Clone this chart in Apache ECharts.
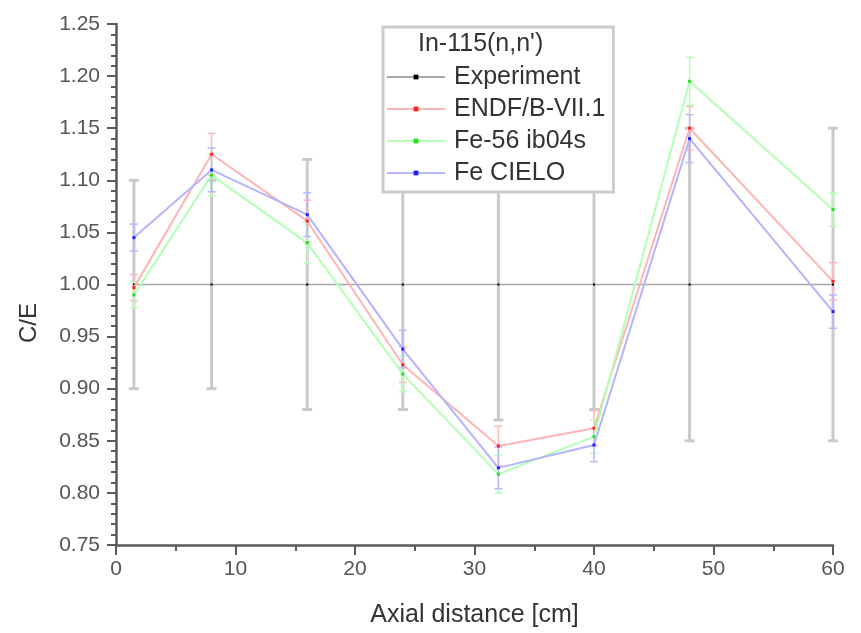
<!DOCTYPE html>
<html>
<head>
<meta charset="utf-8">
<script src="https://cdn.jsdelivr.net/npm/echarts@6/dist/echarts.min.js"></script>
<style>
  html, body { margin: 0; padding: 0; background: #fff; }
  #chart { width: 861px; height: 633px; }
</style>
</head>
<body>
<div id="chart"></div>
<script>
var xs = [1.5, 8, 16, 24, 32, 40, 48, 60];
var expVals = [1, 1, 1, 1, 1, 1, 1, 1];
var expErr = [0.10, 0.10, 0.12, 0.12, 0.13, 0.12, 0.15, 0.15];
var endfVals = [0.997, 1.125, 1.061, 0.923, 0.845, 0.862, 1.150, 1.003];
var endfErr = [0.0125, 0.020, 0.020, 0.017, 0.019, 0.017, 0.021, 0.018];
var fe56Vals = [0.990, 1.105, 1.040, 0.914, 0.818, 0.854, 1.195, 1.072];
var fe56Err = [0.012, 0.020, 0.020, 0.017, 0.018, 0.016, 0.023, 0.016];
var cieloVals = [1.045, 1.110, 1.067, 0.938, 0.824, 0.846, 1.140, 0.974];
var cieloErr = [0.013, 0.021, 0.021, 0.018, 0.020, 0.016, 0.023, 0.016];

var names = ['Experiment', 'ENDF/B-VII.1', 'Fe-56 ib04s', 'Fe CIELO'];
var lineColors = ['#a8a8a8', '#ffb4b4', '#b4ffb4', '#b4b4ff'];
var markColors = ['#000000', '#ff2020', '#20e020', '#2020ff'];
var barColors = ['#cacaca', '#ffb8b8', '#b8ffb8', '#b8b8ff'];
var allVals = [expVals, endfVals, fe56Vals, cieloVals];
var allErr = [expErr, endfErr, fe56Err, cieloErr];

function pts(vals) { return xs.map(function (x, i) { return [x, vals[i]]; }); }
function errPts(vals, errs) { return xs.map(function (x, i) { return [x, vals[i] - errs[i], vals[i] + errs[i]]; }); }

function errSeries(k) {
  var lw = k === 0 ? 3 : 1.5;
  var half = k === 0 ? 5 : 4;
  return {
    type: 'custom',
    name: names[k] + ' err',
    data: errPts(allVals[k], allErr[k]),
    encode: { x: 0, y: [1, 2] },
    z: k === 0 ? 1 : 2,
    silent: true,
    renderItem: function (params, api) {
      var x = api.value(0);
      var lo = api.coord([x, api.value(1)]);
      var hi = api.coord([x, api.value(2)]);
      var st = { stroke: barColors[k], lineWidth: lw };
      return {
        type: 'group',
        children: [
          { type: 'line', shape: { x1: lo[0], y1: lo[1], x2: hi[0], y2: hi[1] }, style: st },
          { type: 'line', shape: { x1: lo[0] - half, y1: lo[1], x2: lo[0] + half, y2: lo[1] }, style: st },
          { type: 'line', shape: { x1: hi[0] - half, y1: hi[1], x2: hi[0] + half, y2: hi[1] }, style: st }
        ]
      };
    }
  };
}

function lineSeries(k) {
  return {
    type: 'line',
    name: names[k],
    data: pts(allVals[k]),
    z: 3 + k,
    symbol: 'rect',
    symbolSize: k === 0 ? 2 : 3,
    showSymbol: true,
    itemStyle: { color: markColors[k] },
    lineStyle: { color: lineColors[k], width: k === 0 ? 1.5 : 2 },
    emphasis: { disabled: true },
    animation: false
  };
}

var series = [];
for (var k = 0; k < 4; k++) series.push(errSeries(k));
for (var k2 = 0; k2 < 4; k2++) series.push(lineSeries(k2));

var chart = echarts.init(document.getElementById('chart'), null, { renderer: 'canvas' });
chart.setOption({
  animation: false,
  backgroundColor: '#ffffff',
  textStyle: { fontFamily: 'Liberation Sans, Arial, sans-serif' },
  grid: { left: 116, right: 28, top: 24, bottom: 85 },
  xAxis: {
    type: 'value',
    min: 0, max: 60, interval: 10,
    name: 'Axial distance [cm]',
    nameLocation: 'middle',
    nameGap: 58,
    nameTextStyle: { fontSize: 25, color: '#333' },
    axisLine: { lineStyle: { color: '#5a5a5a', width: 2.5 } },
    axisTick: { show: true, length: 10, lineStyle: { color: '#5a5a5a', width: 2 } },
    minorTick: { show: true, splitNumber: 2, length: 6, lineStyle: { color: '#5a5a5a', width: 2 } },
    axisLabel: { fontSize: 21, color: '#555', margin: 14 },
    splitLine: { show: false }
  },
  yAxis: {
    type: 'value',
    min: 0.75, max: 1.25, interval: 0.05,
    axisLine: { show: true, lineStyle: { color: '#5a5a5a', width: 2.5 } },
    axisTick: { show: true, length: 9, lineStyle: { color: '#5a5a5a', width: 2 } },
    minorTick: { show: true, splitNumber: 5, length: 5, lineStyle: { color: '#5a5a5a', width: 2 } },
    axisLabel: { fontSize: 21, color: '#555', margin: 16, formatter: function (v) { return v.toFixed(2); } },
    splitLine: { show: false }
  },
  legend: {
    data: names,
    orient: 'vertical',
    left: 383,
    top: 27,
    padding: [34, 8, 3, 3],
    itemGap: 0,
    itemWidth: 58,
    itemHeight: 6,
    backgroundColor: '#ffffff',
    borderColor: '#cccccc',
    borderWidth: 3,
    textStyle: { fontSize: 25, color: '#333', lineHeight: 32, padding: [0, 0, 0, 4] },
    z: 10
  },
  graphic: [
    {
      type: 'text',
      left: 418,
      top: 32,
      z: 100,
      style: { text: "In-115(n,n')", fontSize: 25, fill: '#333', fontFamily: 'Liberation Sans, Arial, sans-serif' }
    },
    {
      type: 'text',
      left: 17,
      top: 303,
      rotation: Math.PI / 2,
      z: 100,
      style: { text: 'C/E', fontSize: 24, fill: '#333', fontFamily: 'Liberation Sans, Arial, sans-serif', align: 'center', verticalAlign: 'middle' }
    }
  ],
  series: series
});
</script>
</body>
</html>
